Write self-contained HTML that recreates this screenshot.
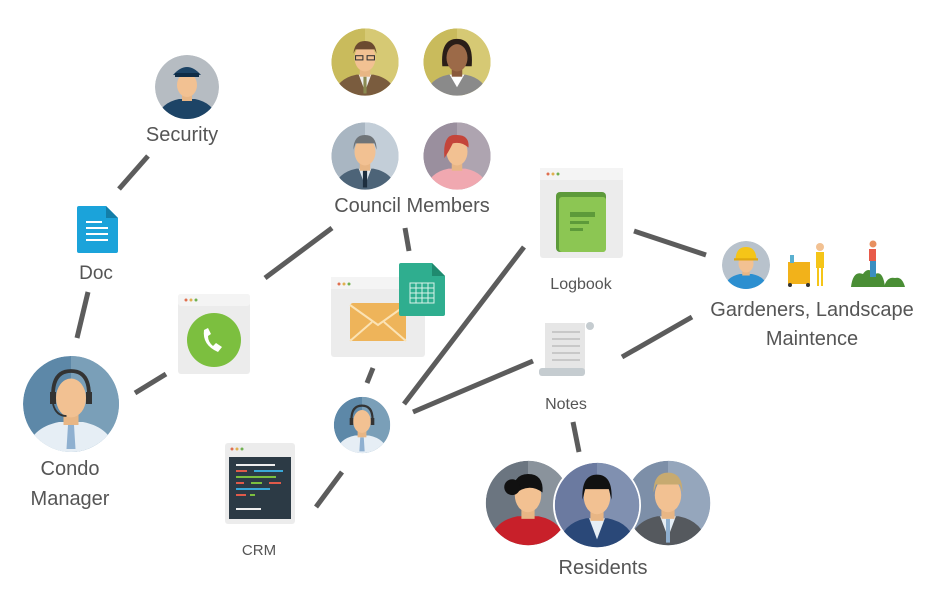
<!DOCTYPE html>
<html><head><meta charset="utf-8"><style>
html,body{margin:0;padding:0;background:#fff;width:945px;height:602px;overflow:hidden}
text{font-family:"Liberation Sans","DejaVu Sans",sans-serif;fill:#555}
</style></head><body>
<svg width="945" height="602" viewBox="0 0 945 602" xmlns="http://www.w3.org/2000/svg">
<defs>
<clipPath id="c"><circle r="32"/></clipPath>
</defs>
<!-- connectors -->
<g stroke="#5c5c5c" stroke-width="5" fill="none">
<line x1="148" y1="156" x2="119" y2="189"/>
<line x1="88" y1="292" x2="77" y2="338"/>
<line x1="135" y1="393" x2="166" y2="374"/>
<line x1="265" y1="278" x2="332" y2="228"/>
<line x1="405" y1="228" x2="409" y2="251"/>
<line x1="373" y1="368" x2="367" y2="383"/>
<line x1="316" y1="507" x2="342" y2="472"/>
<line x1="404" y1="404" x2="524" y2="247"/>
<line x1="413" y1="412" x2="533" y2="361"/>
<line x1="622" y1="357" x2="692" y2="317"/>
<line x1="634" y1="231" x2="706" y2="255"/>
<line x1="573" y1="422" x2="579" y2="452"/>
</g>

<!-- Security -->
<g transform="translate(187,87) scale(1)">
<g clip-path="url(#c)"><circle r="32" fill="#b6bcc2"/>
<path d="M-30,34 Q-28,16 -8,12 L8,12 Q28,16 30,34Z" fill="#1d4466"/>
<rect x="-5" y="4" width="10" height="10" fill="#e8b685"/>
<ellipse cx="0" cy="-2" rx="10" ry="12" fill="#f2c192"/>
<path d="M-14,-12 Q0,-28 14,-12 Z" fill="#1d4466"/><rect x="-12" y="-14" width="24" height="4" fill="#0f2d47"/>
</g></g>
<text x="182" y="141" font-size="20" text-anchor="middle">Security</text>

<!-- Doc -->
<path d="M79,206 H106 L118,218 V251 Q118,253 116,253 H79 Q77,253 77,251 V208 Q77,206 79,206Z" fill="#1ba3da"/>
<path d="M106,206 L118,218 H106Z" fill="#137ea8"/>
<g stroke="#fff" stroke-width="2"><line x1="86" y1="222" x2="102" y2="222"/><line x1="86" y1="228" x2="108" y2="228"/><line x1="86" y1="234" x2="108" y2="234"/><line x1="86" y1="240" x2="108" y2="240"/></g>
<text x="96" y="279" font-size="19" text-anchor="middle">Doc</text>

<!-- Condo manager -->
<g transform="translate(71,404) scale(1.5)">
<g clip-path="url(#c)"><circle r="32" fill="#5d88a8"/><rect x="0" y="-32" width="32" height="64" fill="#7a9fb8"/>
<path d="M-30,34 Q-28,16 -8,12 L8,12 Q28,16 30,34Z" fill="#e6eef5"/>
<path d="M-2,14 L2,14 L3,30 L-3,30Z" fill="#8fb0d0"/>
<rect x="-5" y="4" width="10" height="10" fill="#e8b685"/>
<ellipse cx="0" cy="-4" rx="10" ry="13" fill="#f2c192"/>
<path d="M-12,-6 Q-12,-22 0,-22 Q12,-22 12,-6" stroke="#333" stroke-width="2.5" fill="none"/>
<rect x="-14" y="-8" width="4" height="8" fill="#333"/><rect x="10" y="-8" width="4" height="8" fill="#333"/>
<path d="M-12,0 Q-10,8 -3,8" stroke="#333" stroke-width="1.2" fill="none"/>
</g></g>
<text x="70" y="475" font-size="20" text-anchor="middle">Condo</text>
<text x="70" y="505" font-size="20" text-anchor="middle">Manager</text>

<!-- Phone window -->
<rect x="178" y="294" width="72" height="80" rx="3" fill="#ececec"/>
<rect x="178" y="294" width="72" height="12" rx="3" fill="#f4f4f4"/>
<circle cx="186" cy="300" r="1.5" fill="#e07050"/><circle cx="191" cy="300" r="1.5" fill="#e0b050"/><circle cx="196" cy="300" r="1.5" fill="#70b050"/>
<circle cx="214" cy="340" r="27" fill="#7cbf3f"/>
<path d="M204,330 Q202,345 218,352 L222,347 L216,343 L213,346 Q208,342 208,336 L211,334 L208,328Z" fill="#fff"/>

<!-- Council -->
<g transform="translate(365,62) scale(1.05)"><g clip-path="url(#c)"><circle r="32" fill="#c9bb5c"/><rect x="0" y="-32" width="32" height="64" fill="#d6c974"/>
<path d="M-30,34 Q-28,16 -8,12 L8,12 Q28,16 30,34Z" fill="#7a5c3e"/><path d="M-6,12 L0,28 L6,12Z" fill="#eee"/><rect x="-1.5" y="14" width="3" height="16" fill="#8a8a50"/>
<rect x="-5" y="4" width="10" height="10" fill="#e8b685"/><ellipse cx="0" cy="-4" rx="10" ry="13" fill="#f2c192"/>
<path d="M-11,-8 Q-10,-20 0,-20 Q10,-20 11,-8 L9,-12 L-9,-12Z" fill="#6b4a30"/><rect x="-9" y="-6" width="7" height="4" fill="none" stroke="#333"/><rect x="2" y="-6" width="7" height="4" fill="none" stroke="#333"/></g></g>
<g transform="translate(457,62) scale(1.05)"><g clip-path="url(#c)"><circle r="32" fill="#c9bb5c"/><rect x="0" y="-32" width="32" height="64" fill="#d6c974"/>
<path d="M-14,4 Q-16,-22 0,-22 Q16,-22 14,4Z" fill="#2a1e18"/>
<path d="M-30,34 Q-28,16 -8,12 L8,12 Q28,16 30,34Z" fill="#8a8a8a"/><path d="M-7,12 L0,24 L7,12Z" fill="#fff"/>
<rect x="-5" y="4" width="10" height="10" fill="#8a5a3c"/><ellipse cx="0" cy="-4" rx="10" ry="13" fill="#9c6a48"/></g></g>
<g transform="translate(365,156) scale(1.05)"><g clip-path="url(#c)"><circle r="32" fill="#a9b6c2"/><rect x="0" y="-32" width="32" height="64" fill="#c3ced8"/>
<path d="M-30,34 Q-28,16 -8,12 L8,12 Q28,16 30,34Z" fill="#4d6478"/><path d="M-6,12 L0,28 L6,12Z" fill="#dfe8ef"/><rect x="-2" y="14" width="4" height="16" fill="#1d2e3e"/>
<rect x="-5" y="4" width="10" height="10" fill="#e8b685"/><ellipse cx="0" cy="-4" rx="10" ry="13" fill="#f2c192"/>
<path d="M-11,-6 Q-11,-20 0,-20 Q11,-20 11,-6 L9,-12 L-9,-12Z" fill="#6f7478"/></g></g>
<g transform="translate(457,156) scale(1.05)"><g clip-path="url(#c)"><circle r="32" fill="#9a8f9e"/><rect x="0" y="-32" width="32" height="64" fill="#aea4b0"/>
<path d="M-30,34 Q-28,16 -8,12 L8,12 Q28,16 30,34Z" fill="#f0a8b0"/>
<rect x="-5" y="4" width="10" height="10" fill="#e8b685"/><ellipse cx="0" cy="-4" rx="10" ry="13" fill="#f2c192"/>
<path d="M-12,2 Q-14,-22 0,-20 Q12,-20 11,-8 Q4,-14 -4,-12 Q-8,-4 -12,2Z" fill="#c4453a"/></g></g>
<text x="412" y="212" font-size="20" text-anchor="middle">Council Members</text>

<!-- Email window + sheet -->
<rect x="331" y="277" width="94" height="80" rx="3" fill="#ececec"/>
<rect x="331" y="277" width="94" height="12" fill="#f4f4f4"/>
<circle cx="339" cy="284" r="1.5" fill="#e07050"/><circle cx="344" cy="284" r="1.5" fill="#e0b050"/><circle cx="349" cy="284" r="1.5" fill="#70b050"/>
<rect x="350" y="303" width="56" height="38" rx="3" fill="#eeb45a"/>
<path d="M350,305 L378,325 L406,305 M350,341 L372,322 M406,341 L384,322" stroke="#fbe3b5" stroke-width="2" fill="none"/>
<path d="M401,263 H432 L445,276 V314 Q445,316 443,316 H401 Q399,316 399,314 V265 Q399,263 401,263Z" fill="#2fae8f"/>
<path d="M432,263 L445,276 H432Z" fill="#1f8a6f"/>
<g stroke="#d8f3ea" stroke-width="1" fill="none"><rect x="410" y="283" width="24" height="20"/><line x1="416" y1="283" x2="416" y2="303"/><line x1="422" y1="283" x2="422" y2="303"/><line x1="428" y1="283" x2="428" y2="303"/><line x1="410" y1="288" x2="434" y2="288"/><line x1="410" y1="293" x2="434" y2="293"/><line x1="410" y1="298" x2="434" y2="298"/></g>

<!-- Agent -->
<g transform="translate(362,425) scale(0.88)">
<g clip-path="url(#c)"><circle r="32" fill="#5d88a8"/><rect x="0" y="-32" width="32" height="64" fill="#7a9fb8"/>
<path d="M-30,34 Q-28,16 -8,12 L8,12 Q28,16 30,34Z" fill="#e6eef5"/>
<path d="M-2,14 L2,14 L3,30 L-3,30Z" fill="#8fb0d0"/>
<rect x="-5" y="4" width="10" height="10" fill="#e8b685"/>
<ellipse cx="0" cy="-4" rx="10" ry="13" fill="#f2c192"/>
<path d="M-12,-6 Q-12,-22 0,-22 Q12,-22 12,-6" stroke="#333" stroke-width="2.5" fill="none"/>
<rect x="-14" y="-8" width="4" height="8" fill="#333"/><rect x="10" y="-8" width="4" height="8" fill="#333"/>
</g></g>

<!-- CRM -->
<rect x="225" y="443" width="70" height="81" rx="3" fill="#ececec"/>
<circle cx="232" cy="449" r="1.5" fill="#e07050"/><circle cx="237" cy="449" r="1.5" fill="#e0b050"/><circle cx="242" cy="449" r="1.5" fill="#70b050"/>
<rect x="229" y="457" width="62" height="62" fill="#2c3a45"/>
<g stroke-width="2"><line x1="236" y1="465" x2="275" y2="465" stroke="#eee"/><line x1="236" y1="471" x2="247" y2="471" stroke="#e05a4a"/><line x1="254" y1="471" x2="283" y2="471" stroke="#3aa8d8"/><line x1="236" y1="477" x2="276" y2="477" stroke="#7cbf3f"/><line x1="236" y1="483" x2="244" y2="483" stroke="#e05a4a"/><line x1="251" y1="483" x2="262" y2="483" stroke="#7cbf3f"/><line x1="269" y1="483" x2="281" y2="483" stroke="#e05a4a"/><line x1="236" y1="489" x2="270" y2="489" stroke="#3aa8d8"/><line x1="236" y1="495" x2="246" y2="495" stroke="#e05a4a"/><line x1="250" y1="495" x2="255" y2="495" stroke="#7cbf3f"/><line x1="236" y1="509" x2="261" y2="509" stroke="#eee"/></g>
<text x="259" y="555" font-size="15" text-anchor="middle">CRM</text>

<!-- Logbook -->
<rect x="540" y="168" width="83" height="90" rx="3" fill="#ececec"/>
<rect x="540" y="168" width="83" height="12" fill="#f4f4f4"/>
<circle cx="548" cy="174" r="1.5" fill="#e07050"/><circle cx="553" cy="174" r="1.5" fill="#e0b050"/><circle cx="558" cy="174" r="1.5" fill="#70b050"/>
<rect x="556" y="192" width="50" height="60" rx="4" fill="#5d9a3a"/>
<rect x="559" y="197" width="47" height="55" rx="3" fill="#8cc653"/>
<rect x="570" y="212" width="25" height="5" fill="#5d9a3a"/><rect x="570" y="221" width="19" height="3" fill="#5d9a3a"/><rect x="570" y="228" width="13" height="3" fill="#5d9a3a"/>
<text x="581" y="289" font-size="16" text-anchor="middle">Logbook</text>

<!-- Notes -->
<rect x="545" y="323" width="40" height="50" fill="#e6e6e6"/>
<circle cx="590" cy="326" r="4" fill="#c5ccd0"/>
<rect x="539" y="368" width="46" height="8" rx="3" fill="#c5ccd0"/>
<g stroke="#c8c8c8" stroke-width="2"><line x1="552" y1="332" x2="580" y2="332"/><line x1="552" y1="339" x2="580" y2="339"/><line x1="552" y1="346" x2="580" y2="346"/><line x1="552" y1="353" x2="580" y2="353"/><line x1="552" y1="360" x2="580" y2="360"/></g>
<text x="566" y="409" font-size="16" text-anchor="middle">Notes</text>

<!-- Gardeners -->
<g transform="translate(746,265) scale(0.75)"><g clip-path="url(#c)"><circle r="32" fill="#b8c2cc"/>
<path d="M-30,34 Q-28,16 -8,12 L8,12 Q28,16 30,34Z" fill="#2c8fd0"/>
<rect x="-5" y="4" width="10" height="10" fill="#e8b685"/><ellipse cx="0" cy="-2" rx="10" ry="12" fill="#f2c192"/>
<path d="M-14,-8 Q-13,-24 0,-24 Q13,-24 14,-8Z" fill="#f5c518"/><rect x="-16" y="-9" width="32" height="3" fill="#e0a810"/></g></g>
<rect x="788" y="262" width="22" height="22" fill="#f2b21a"/><rect x="790" y="255" width="4" height="8" fill="#5ab0d0"/><circle cx="790" cy="285" r="2" fill="#333"/><circle cx="808" cy="285" r="2" fill="#333"/>
<circle cx="820" cy="247" r="4" fill="#f2c192"/><rect x="816" y="252" width="8" height="16" fill="#f5c518"/><rect x="817" y="268" width="2" height="18" fill="#f5c518"/><rect x="821" y="268" width="2" height="18" fill="#f5c518"/>
<path d="M851,287 Q853,270 863,274 Q868,266 875,274 Q883,270 885,287Z" fill="#4a8e35"/><path d="M884,287 Q887,276 895,278 Q902,276 905,287Z" fill="#4a8e35"/>
<circle cx="873" cy="244" r="3.5" fill="#e89060"/><rect x="869" y="249" width="7" height="12" fill="#e85a4a"/><rect x="870" y="261" width="6" height="16" fill="#3a8ec0"/>
<text x="812" y="316" font-size="20" text-anchor="middle">Gardeners, Landscape</text>
<text x="812" y="345" font-size="20" text-anchor="middle">Maintence</text>

<!-- Residents -->
<g transform="translate(528,503) scale(1.32)"><g clip-path="url(#c)"><circle r="32" fill="#6b7580"/><rect x="0" y="-32" width="32" height="64" fill="#8a939c"/>
<path d="M-30,34 Q-28,14 -8,10 L8,10 Q28,14 30,34Z" fill="#c8202a"/>
<rect x="-5" y="2" width="10" height="10" fill="#e8b685"/><ellipse cx="0" cy="-6" rx="10" ry="13" fill="#f2c192"/>
<path d="M-11,-6 Q-12,-22 0,-22 Q12,-22 11,-8 Q0,-16 -11,-6Z" fill="#111"/><circle cx="-12" cy="-12" r="6" fill="#111"/></g></g>
<g transform="translate(668,503) scale(1.32)"><g clip-path="url(#c)"><circle r="32" fill="#7d8fa8"/><rect x="0" y="-32" width="32" height="64" fill="#95a6bc"/>
<path d="M-30,34 Q-28,14 -8,10 L8,10 Q28,14 30,34Z" fill="#55595e"/><path d="M-6,10 L0,26 L6,10Z" fill="#e6eef5"/><rect x="-1.5" y="12" width="3" height="18" fill="#8fb0d0"/>
<rect x="-5" y="2" width="10" height="10" fill="#e8b685"/><ellipse cx="0" cy="-6" rx="10" ry="13" fill="#f2c192"/>
<path d="M-11,-8 Q-11,-23 0,-23 Q11,-23 11,-8 L9,-14 L-9,-14Z" fill="#c7aa70"/></g></g>
<circle cx="597" cy="505" r="44" fill="#fff"/>
<g transform="translate(597,505) scale(1.32)"><g clip-path="url(#c)"><circle r="32" fill="#6b7aa0"/><rect x="0" y="-32" width="32" height="64" fill="#8090b0"/>
<path d="M-30,34 Q-28,14 -8,10 L8,10 Q28,14 30,34Z" fill="#2a4878"/><path d="M-6,10 L0,26 L6,10Z" fill="#e6eef5"/>
<rect x="-5" y="2" width="10" height="10" fill="#e8b685"/><ellipse cx="0" cy="-6" rx="10" ry="13" fill="#f2c192"/>
<path d="M-11,-4 Q-12,-23 0,-23 Q12,-23 11,-4 L9,-12 L-9,-12Z" fill="#111"/></g></g>
<text x="603" y="574" font-size="20" text-anchor="middle">Residents</text>
</svg>
</body></html>
